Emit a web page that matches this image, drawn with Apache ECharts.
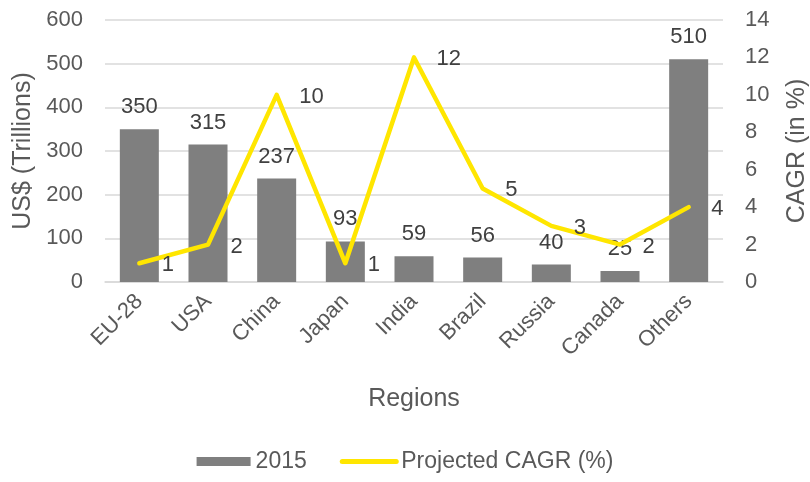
<!DOCTYPE html>
<html>
<head>
<meta charset="utf-8">
<script src="https://cdn.jsdelivr.net/npm/echarts@6/dist/echarts.min.js"></script>
<style>
  html, body { margin: 0; padding: 0; background: #fff; }
  #chart { width: 810px; height: 482px; }
</style>
</head>
<body>
<div id="chart"></div>
<script>
const regions = ['EU-28', 'USA', 'China', 'Japan', 'India', 'Brazil', 'Russia', 'Canada', 'Others'];
const values2015 = [350, 315, 237, 93, 59, 56, 40, 25, 510];
const cagr = [1, 2, 10, 1, 12, 5, 3, 2, 4];

const font = 'Liberation Sans, Arial, sans-serif';
const textColor = '#595959';
const labelColor = '#404040';

const chart = echarts.init(document.getElementById('chart'));
chart.setOption({
  animation: false,
  textStyle: { fontFamily: font },
  grid: { left: 105, right: 87, top: 20, bottom: 200, outerBoundsMode: 'none', containLabel: false },
  legend: {
    bottom: 4,
    left: 'center',
    itemGap: 33,
    itemWidth: 54,
    itemHeight: 9,
    textStyle: { fontSize: 23, color: textColor, fontFamily: font },
    data: [
      { name: '2015', icon: 'rect' },
      {
        name: 'Projected CAGR (%)',
        lineStyle: { width: 5, cap: 'round' },
        itemStyle: { color: 'rgba(0,0,0,0)', borderWidth: 0, opacity: 0 }
      }
    ]
  },
  xAxis: {
    type: 'category',
    data: regions,
    name: 'Regions',
    nameLocation: 'middle',
    nameGap: 105,
    nameTextStyle: { fontSize: 25, color: textColor },
    axisLine: { lineStyle: { color: '#d9d9d9', width: 1.5 } },
    axisTick: { show: false },
    axisLabel: { rotate: 45, fontSize: 22, color: textColor, margin: 16 }
  },
  yAxis: [
    {
      type: 'value',
      min: 0, max: 600, interval: 100,
      name: 'US$ (Trillions)',
      nameLocation: 'middle',
      nameGap: 65,
      nameTextStyle: { fontSize: 25, color: textColor },
      axisLabel: { fontSize: 22, color: textColor, margin: 22 },
      splitLine: { lineStyle: { color: '#d9d9d9', width: 1.5 } }
    },
    {
      type: 'value',
      min: 0, max: 14, interval: 2,
      name: 'CAGR (in %)',
      nameLocation: 'middle',
      nameGap: 62,
      nameTextStyle: { fontSize: 25, color: textColor },
      axisLabel: { fontSize: 22, color: textColor, margin: 22 },
      splitLine: { show: false }
    }
  ],
  series: [
    {
      name: '2015',
      type: 'bar',
      data: values2015,
      barWidth: 39,
      itemStyle: { color: '#7f7f7f' },
      label: { show: true, position: 'top', distance: 11, fontSize: 22, color: labelColor }
    },
    {
      name: 'Projected CAGR (%)',
      type: 'line',
      yAxisIndex: 1,
      data: cagr,
      symbol: 'none',
      lineStyle: { color: '#ffe600', width: 4.5, cap: 'round', join: 'round' },
      itemStyle: { color: '#ffe600' }
    },
    {
      name: 'cagrLabels',
      type: 'scatter',
      yAxisIndex: 1,
      data: cagr,
      symbolSize: 1,
      itemStyle: { color: 'rgba(0,0,0,0)', opacity: 1 },
      silent: true,
      z: 5,
      label: { show: true, position: 'right', distance: 22, offset: [0, 2], fontSize: 22, color: labelColor, opacity: 1 }
    }
  ]
});
</script>
</body>
</html>
